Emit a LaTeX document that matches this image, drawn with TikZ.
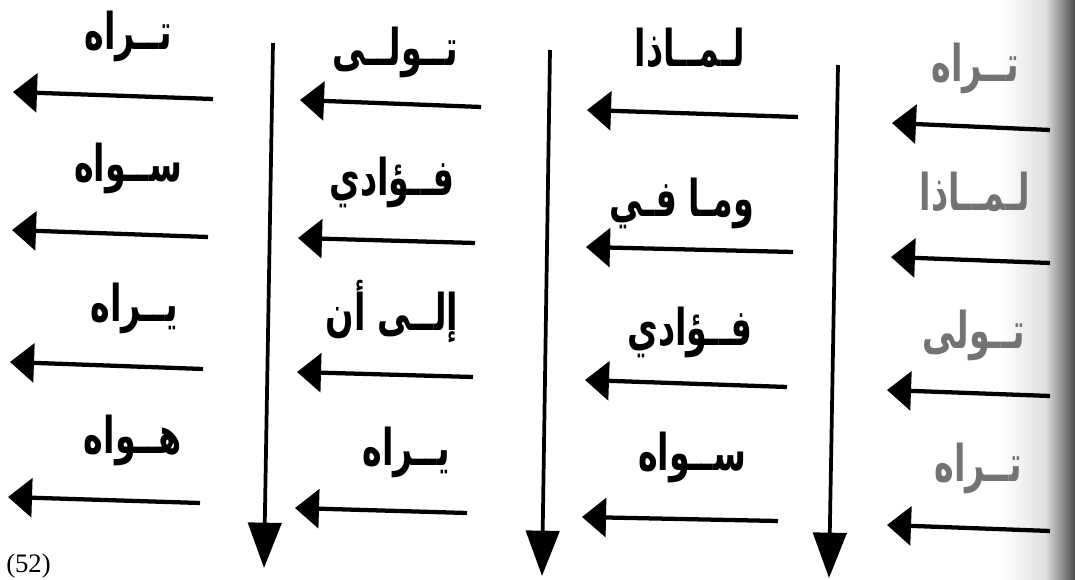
\documentclass[tikz,border=0pt]{standalone}
\usepackage{fontspec}
\setmainfont{Liberation Serif}
\newfontfamily\arabicfont[Script=Arabic, FakeStretch=0.66]{DejaVu Sans}
\TeXXeTstate=1
\usetikzlibrary{arrows.meta}
\begin{document}
\begin{tikzpicture}[x=0.75pt,y=-0.75pt,
  word/.style={font=\arabicfont\bfseries\fontsize{38}{44}\selectfont, inner sep=0pt},
  faint/.style={word, text=black!55},
  harr/.style={line width=3.2pt, -{Triangle[length=18pt,width=29pt]}},
  varr/.style={line width=2.8pt, -{Triangle[length=34pt,width=25pt]}},
  pagenum/.style={font=\fontsize{20}{24}\selectfont, inner sep=0pt}]
\useasboundingbox (0,0) rectangle (1075,580);
\clip (0,0) rectangle (1075,580);
% scan shadow at the right edge
\shade[left color=white, right color=black!12] (1000,0) rectangle (1045,580);
\shade[left color=black!12, right color=black!70] (1045,0) rectangle (1075,580);

% column 1
\node[word] (w11) at (128,36) {\beginR تــراه\endR};
\node[word] (w12) at (128,168) {\beginR ســواه\endR};
\node[word] (w13) at (134,308) {\beginR يــراه\endR};
\node[word] (w14) at (133,440) {\beginR هــواه\endR};
\coordinate (a11s) at (213,99);  \coordinate (a11e) at (13,92);
\coordinate (a12s) at (208,237); \coordinate (a12e) at (12,230);
\coordinate (a13s) at (203,369); \coordinate (a13e) at (10,362);
\coordinate (a14s) at (200,503); \coordinate (a14e) at (8,497);
\foreach \i in {1,...,4} \draw[harr] (a1\i s) -- (a1\i e);

% column 2
\node[word] (w21) at (395,52) {\beginR تــولــى\endR};
\node[word] (w22) at (392,182) {\beginR فــؤادي\endR};
\node[word] (w23) at (392,312) {\beginR إلــى أن\endR};
\node[word] (w24) at (406,452) {\beginR يــراه\endR};
\coordinate (a21s) at (481,107); \coordinate (a21e) at (300,100);
\coordinate (a22s) at (475,243); \coordinate (a22e) at (298,238);
\coordinate (a23s) at (473,377); \coordinate (a23e) at (297,372);
\coordinate (a24s) at (467,513); \coordinate (a24e) at (295,508);
\foreach \i in {1,...,4} \draw[harr] (a2\i s) -- (a2\i e);

% column 3
\node[word] (w31) at (690,48) {\beginR لـمــاذا\endR};
\node[word] (w32) at (682,203) {\beginR ومـا فـي\endR};
\node[word] (w33) at (690,332) {\beginR فــؤادي\endR};
\node[word] (w34) at (692,457) {\beginR ســواه\endR};
\coordinate (a31s) at (798,117); \coordinate (a31e) at (587,110);
\coordinate (a32s) at (793,252); \coordinate (a32e) at (586,247);
\coordinate (a33s) at (787,387); \coordinate (a33e) at (585,380);
\coordinate (a34s) at (778,521); \coordinate (a34e) at (582,517);
\foreach \i in {1,...,4} \draw[harr] (a3\i s) -- (a3\i e);

% column 4 (partly cut at the right edge)
\node[faint] (w41) at (975,68) {\beginR تــراه\endR};
\node[faint] (w42) at (975,192) {\beginR لـمــاذا\endR};
\node[faint] (w43) at (974,335) {\beginR تــولى\endR};
\node[faint] (w44) at (978,468) {\beginR تــراه\endR};
\coordinate (a41s) at (1050,130); \coordinate (a41e) at (892,123);
\coordinate (a42s) at (1050,263); \coordinate (a42e) at (891,257);
\coordinate (a43s) at (1050,396); \coordinate (a43e) at (887,390);
\coordinate (a44s) at (1050,531); \coordinate (a44e) at (887,525);
\foreach \i in {1,...,4} \draw[harr] (a4\i s) -- (a4\i e);

% vertical arrows
\coordinate (v1t) at (273,43); \coordinate (v1b) at (264,568);
\coordinate (v2t) at (550,50); \coordinate (v2b) at (542,576);
\coordinate (v3t) at (838,65); \coordinate (v3b) at (829,578);
\foreach \i in {1,2,3} \draw[varr] (v\i t) -- (v\i b);

% page number
\node[pagenum, anchor=west] (pn) at (6,566) {(52)};
\end{tikzpicture}
\end{document}
